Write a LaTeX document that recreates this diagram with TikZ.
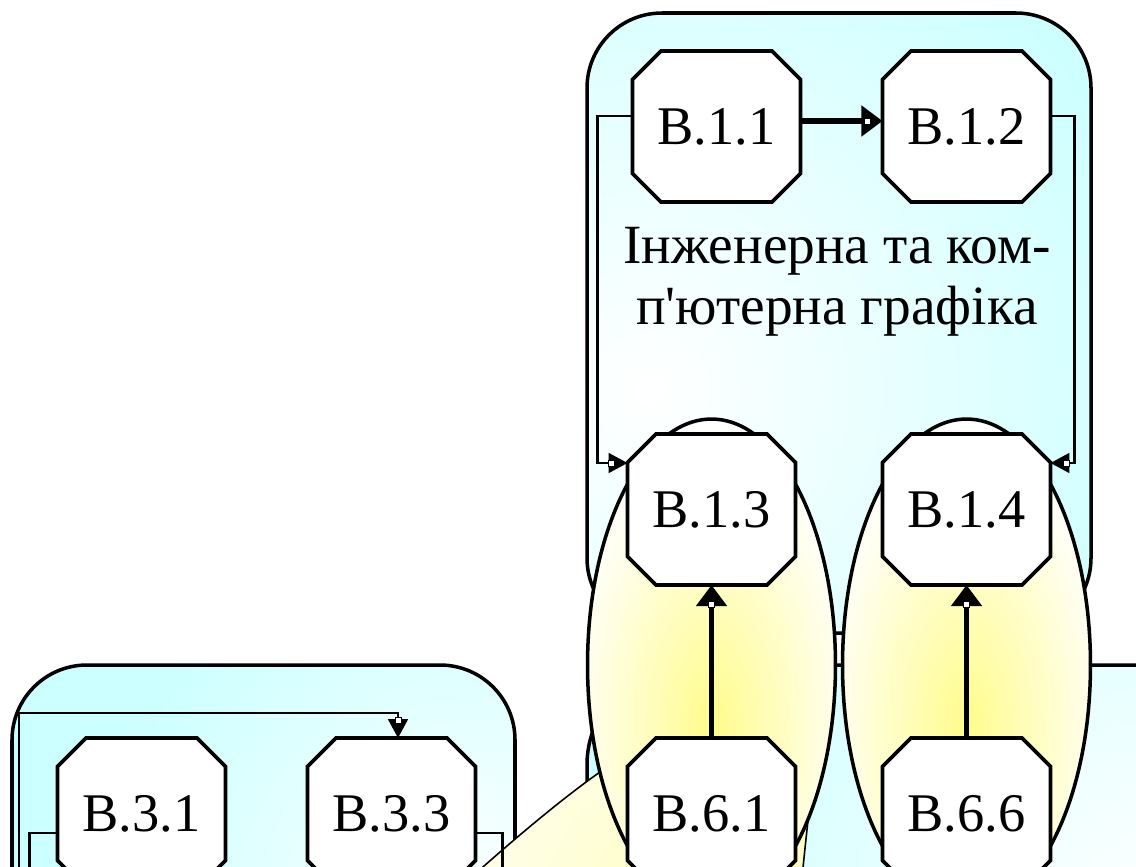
\documentclass[tikz,border=0pt]{standalone}
\usepackage{fontspec}
\setmainfont{Liberation Serif}
\usetikzlibrary{arrows.meta,calc}
\definecolor{cyanbox}{RGB}{204,255,255}
\definecolor{ylw}{RGB}{255,252,140}
\makeatletter
\newdimen\octchamf
\octchamf=0.57cm
\pgfdeclareshape{octbox}{%
  \inheritsavedanchors[from=rectangle]%
  \inheritanchorborder[from=rectangle]%
  \inheritanchor[from=rectangle]{center}%
  \inheritanchor[from=rectangle]{north}%
  \inheritanchor[from=rectangle]{south}%
  \inheritanchor[from=rectangle]{east}%
  \inheritanchor[from=rectangle]{west}%
  \inheritanchor[from=rectangle]{north east}%
  \inheritanchor[from=rectangle]{north west}%
  \inheritanchor[from=rectangle]{south east}%
  \inheritanchor[from=rectangle]{south west}%
  \inheritanchor[from=rectangle]{mid}%
  \inheritanchor[from=rectangle]{base}%
  \backgroundpath{%
    \southwest \pgf@xa=\pgf@x \pgf@ya=\pgf@y
    \northeast \pgf@xb=\pgf@x \pgf@yb=\pgf@y
    \edef\oL{\the\pgf@xa}\edef\oB{\the\pgf@ya}%
    \edef\oR{\the\pgf@xb}\edef\oT{\the\pgf@yb}%
    \advance\pgf@xa by \octchamf \advance\pgf@ya by \octchamf
    \advance\pgf@xb by -\octchamf \advance\pgf@yb by -\octchamf
    \edef\oLi{\the\pgf@xa}\edef\oBi{\the\pgf@ya}%
    \edef\oRi{\the\pgf@xb}\edef\oTi{\the\pgf@yb}%
    \pgfpathmoveto{\pgfqpoint{\oLi}{\oB}}%
    \pgfpathlineto{\pgfqpoint{\oRi}{\oB}}%
    \pgfpathlineto{\pgfqpoint{\oR}{\oBi}}%
    \pgfpathlineto{\pgfqpoint{\oR}{\oTi}}%
    \pgfpathlineto{\pgfqpoint{\oRi}{\oT}}%
    \pgfpathlineto{\pgfqpoint{\oLi}{\oT}}%
    \pgfpathlineto{\pgfqpoint{\oL}{\oTi}}%
    \pgfpathlineto{\pgfqpoint{\oL}{\oBi}}%
    \pgfpathclose
  }%
}
\makeatother
\begin{document}
\begin{tikzpicture}[x=0.02cm,y=-0.02cm,
  oct/.style={shape=octbox, draw=black, fill=white, line width=2.1pt,
    minimum width=3.36cm, minimum height=3.02cm, inner sep=0pt, outer sep=0pt,
    font=\fontsize{31}{37}\selectfont},
  boxline/.style={draw=black, line width=2pt},
  thinc/.style={line width=1.3pt},
  thinarr/.style={thinc, -{Triangle[length=10.8pt,width=11.3pt]}},
  thickarr/.style={line width=3.2pt, -{Triangle[length=12pt,width=17pt]}},
  wsq/.style={fill=white, draw=black, line width=0.4pt}]
\useasboundingbox (0,0) rectangle (1136,866);
\clip (0,0) rectangle (1136,866);

% top-right group box
\fill[cyanbox, rounded corners=1.5cm] (587,13) rectangle (1091,633);
\begin{scope}
  \clip[rounded corners=1.5cm] (587,13) rectangle (1091,633);
  \shade[inner color=white, outer color=cyanbox] (650,390) circle (11cm);
\end{scope}
\draw[boxline, rounded corners=1.5cm] (587,13) rectangle (1091,633);

% bottom-left group box
\fill[cyanbox, rounded corners=1.5cm] (12,665) rectangle (515,1000);
\begin{scope}
  \clip[rounded corners=1.5cm] (12,665) rectangle (515,1000);
  \shade[inner color=white, outer color=cyanbox] (480,920) circle (8cm);
\end{scope}
\draw[boxline, rounded corners=1.5cm] (12,665) rectangle (515,1000);

% bottom-right group box
\fill[cyanbox, rounded corners=2cm] (587,665) rectangle (1400,1100);
\begin{scope}
  \clip[rounded corners=2cm] (587,665) rectangle (1400,1100);
  \shade[inner color=white, outer color=cyanbox] (1160,920) circle (11cm);
\end{scope}
\draw[boxline, rounded corners=2cm] (587,665) rectangle (1400,1100);

% thin outlined shape
\fill[white] (430,915) .. controls (500,850) and (560,800) .. (600,772)
  .. controls (700,700) and (815,740) .. (808,820)
  .. controls (806,840) and (804,855) .. (800,900) -- cycle;
\begin{scope}
  \clip (430,915) .. controls (500,850) and (560,800) .. (600,772)
  .. controls (700,700) and (815,740) .. (808,820)
  .. controls (806,840) and (804,855) .. (800,900) -- cycle;
  \shade[inner color=ylw!70, outer color=white] (760,950) circle (8cm);
\end{scope}
\draw[line width=0.9pt] (430,915) .. controls (500,850) and (560,800) .. (600,772)
  .. controls (700,700) and (815,740) .. (808,820)
  .. controls (806,840) and (804,855) .. (800,900) -- cycle;

% ellipses
\foreach \cx in {711.5,966.5}{
  \fill[white] (\cx,665) ellipse [x radius=2.48cm, y radius=4.92cm];
  \begin{scope}
    \clip (\cx,665) ellipse [x radius=2.48cm, y radius=4.92cm];
    \shade[inner color=ylw, outer color=white] (\cx,725) ellipse [x radius=3cm, y radius=6cm];
  \end{scope}
  \draw[boxline] (\cx,665) ellipse [x radius=2.48cm, y radius=4.92cm];
}

% nodes
\node[oct] (b11) at (716.5,126.5) {В.1.1};
\node[oct] (b12) at (966.5,126.5) {В.1.2};
\node[oct] (b13) at (711.5,509.5) {В.1.3};
\node[oct] (b14) at (966.5,509.5) {В.1.4};
\node[oct] (b61) at (711.5,813.5) {В.6.1};
\node[oct] (b66) at (966.5,813.5) {В.6.6};
\node[oct] (b31) at (141.5,813.5) {В.3.1};
\node[oct] (b33) at (391.5,813.5) {В.3.3};

\node[font=\fontsize{31.5}{35}\selectfont, align=center] (title) at (837,282)
  {Інженерна та ком-\\п\textquotesingle ютерна графіка};

% connectors
\coordinate (j1) at (19,900);
\draw[thickarr] ($(b11.east)+(0,-5.5)$) -- ($(b12.west)+(0,-5.5)$);
\draw[thinarr] ($(b11.west)+(0,-10.5)$) -- ++(-35,0) |- ($(b13.west)+(0,-46.5)$);
\draw[thinarr] ($(b12.east)+(0,-10.5)$) -- ++(24,0) |- ($(b14.east)+(0,-46.5)$);
\draw[thickarr] (b61.north) -- (b13.south);
\draw[thickarr] (b66.north) -- (b14.south);
\draw[thinarr] (j1) -- ++(0,-187) -| ($(b33.north)+(6.5,0)$);
\draw[thinc] ($(b31.west)+(0,19.5)$) -- ++(-28,0) -- ++(0,100);
\draw[thinc] ($(b33.east)+(0,19.5)$) -- ++(27,0) -- ++(0,100);

% small white marks at arrow bases
\filldraw[wsq] (864,118) rectangle (870,124);
\filldraw[wsq] (708.5,601) rectangle (714.5,607);
\filldraw[wsq] (963.5,601) rectangle (969.5,607);
\filldraw[wsq] (608,460) rectangle (614,466);
\filldraw[wsq] (1063,460) rectangle (1069,466);
\filldraw[wsq] (395,717) rectangle (401,723);
\end{tikzpicture}
\end{document}
